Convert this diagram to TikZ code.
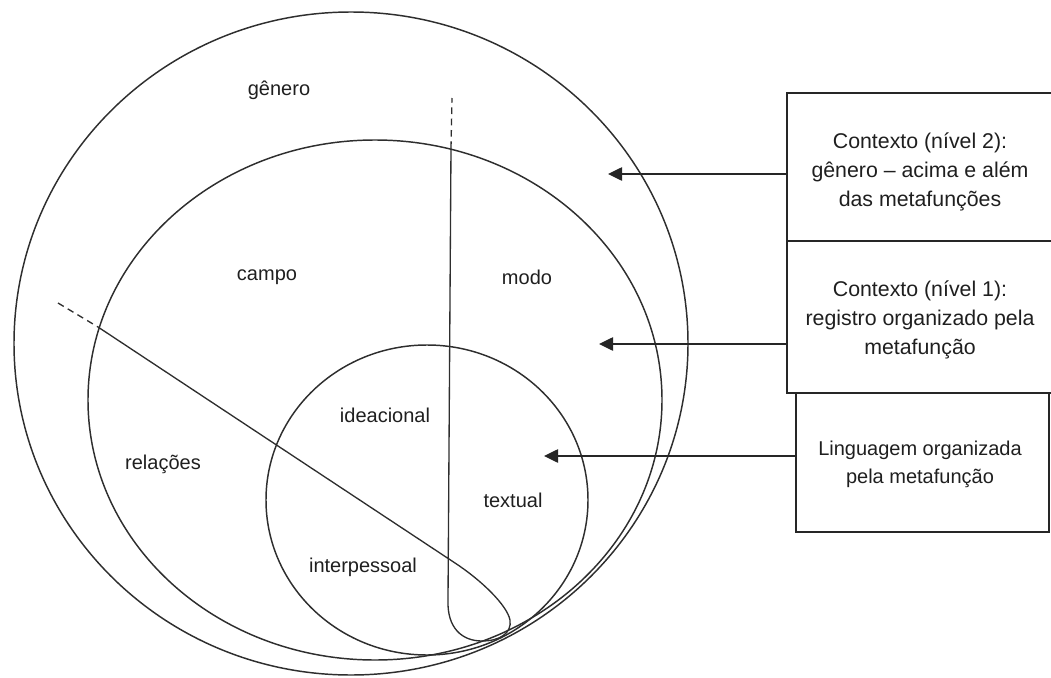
\documentclass[tikz,border=0pt]{standalone}
\usepackage{fontspec}
\setmainfont{Liberation Sans}
\usetikzlibrary{arrows.meta}
\begin{document}
\begin{tikzpicture}[x=0.75pt,y=-0.75pt,
  ring/.style={line width=1.1pt, draw=black!82},
  guide/.style={line width=1pt, draw=black!82},
  lbl/.style={font=\fontsize{15pt}{18pt}\selectfont, text=black!88, inner sep=0pt},
  infobox/.style={draw=black!85, line width=1.1pt, inner sep=0pt},
  infotext/.style={align=center, inner sep=0pt,
    font=\fontsize{16pt}{21.75pt}\selectfont, text=black!88},
  pointer/.style={line width=1.1pt, draw=black!85,
    -{Triangle[length=10.5pt,width=10pt]}}
]
\useasboundingbox (0,0) rectangle (1051,678);

% nested contexts: genre, register, language
\draw[ring] (351,343.5) ellipse [x radius=337, y radius=331.5];
\draw[ring] (375,400) ellipse [x radius=287, y radius=260];
\draw[ring] (427,500) ellipse [x radius=161, y radius=155];

% metafunction dividers
\coordinate (d0) at (58,303);
\coordinate (d1) at (98,327);
\coordinate (v0) at (452,98);
\coordinate (v1) at (451,148);
\draw[guide, dash pattern=on 5pt off 3.5pt] (d0) -- (d1);
\draw[guide, dash pattern=on 5pt off 3.5pt] (v1) -- (v0);
\draw[guide] (d1) -- (455,563)
  .. controls (481,580) and (507,605) .. (510,620)
  .. controls (512,633) and (500,641) .. (482,641)
  .. controls (462,641) and (447,628) .. (448,600)
  -- (v1);

% region labels
\node[lbl] (genero) at (279,90) {gênero};
\node[lbl] (campo) at (267,277) {campo};
\node[lbl] (modo) at (527,277) {modo};
\node[lbl] (relacoes) at (163,464) {relações};
\node[lbl] (ideacional) at (385,415) {ideacional};
\node[lbl] (textual) at (513,500) {textual};
\node[lbl] (interpessoal) at (363,567) {interpessoal};

% explanatory boxes
\node[infobox, minimum width=199.5pt, minimum height=111pt] (b1) at (920,167) {};
\node[infobox, minimum width=199.5pt, minimum height=114pt] (b2) at (920,317) {};
\node[infobox, minimum width=189.75pt, minimum height=104.25pt] (b3) at (922.5,462.5) {};
\node[infotext] (b1text) at (920,172)
  {Contexto (nível 2):\\gênero – acima e além\\das metafunções};
\node[infotext] (b2text) at (920,320)
  {Contexto (nível 1):\\registro organizado pela\\metafunção};
\node[infotext, font=\fontsize{15pt}{21pt}\selectfont] (b3text) at (920,464)
  {Linguagem organizada\\pela metafunção};

% pointers into the circles
\coordinate (t1) at (608,174);
\coordinate (t2) at (599,344);
\coordinate (t3) at (544,456);
\draw[pointer] (b1.west |- t1) -- (t1);
\draw[pointer] (b2.west |- t2) -- (t2);
\draw[pointer] (b3.west |- t3) -- (t3);
\end{tikzpicture}
\end{document}
